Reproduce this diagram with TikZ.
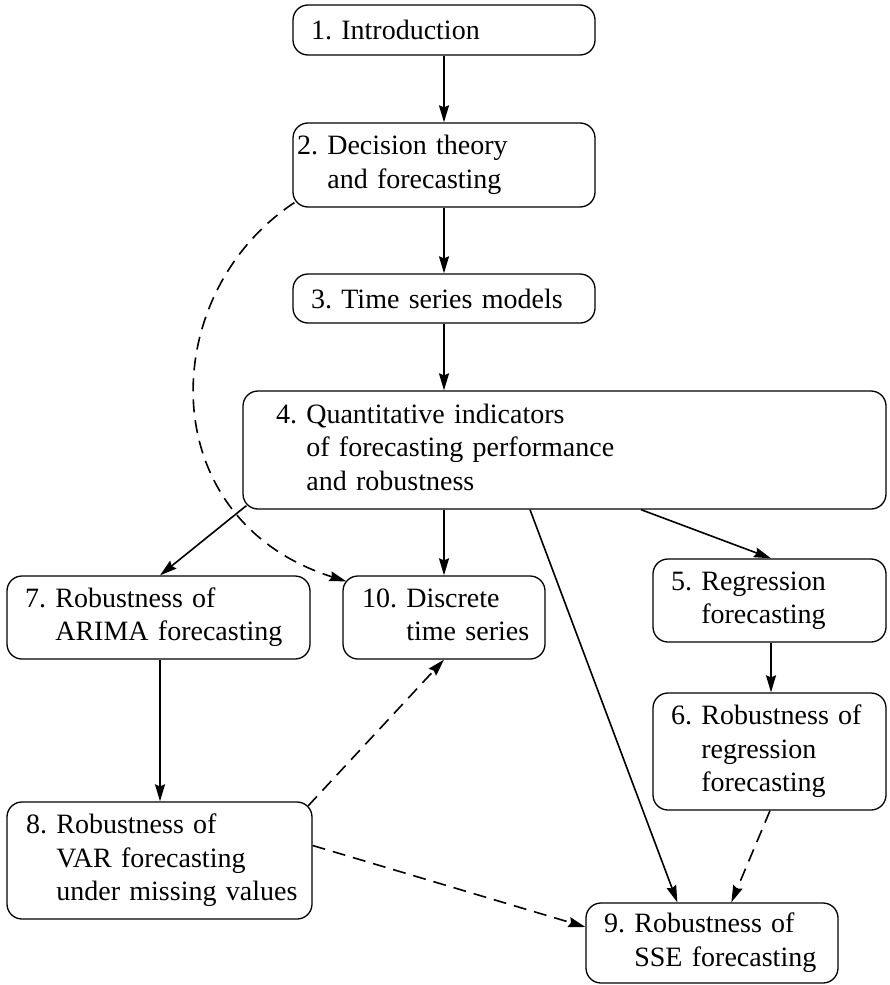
\documentclass[tikz,border=0pt]{standalone}
\usepackage{fontspec}
\setmainfont{Liberation Serif}
\usetikzlibrary{arrows.meta,calc}

% chapter entry: number followed by a hanging-indented title
\newcommand\chap[2]{\begin{tabular}{@{}l@{}l@{}}\mbox{#1\ }&#2\end{tabular}}

\tikzset{
  chapbox/.style={draw, line width=1.3pt, rounded corners=15pt, align=left,
    anchor=center, inner ysep=0pt, font=\fontsize{28}{33.5}\selectfont\frenchspacing},
  link/.style={line width=1.6pt, -{Stealth[length=17pt,width=10pt,inset=2pt]}},
  dlink/.style={link, dash pattern=on 13pt off 8pt},
}

\begin{document}
\frenchspacing
\begin{tikzpicture}[x=1pt,y=-1pt]
\useasboundingbox (0,0) rectangle (889,985);

% chapters
\node[chapbox, minimum width=302pt, minimum height=50pt, inner xsep=18pt, text width=266pt]
  (b1) at (444,30) {1. Introduction};
\node[chapbox, minimum width=302pt, minimum height=84pt, inner xsep=4pt, text width=294pt]
  (b2) at (444,165) {\chap{2.}{Decision theory\\&and forecasting}};
\node[chapbox, minimum width=302pt, minimum height=49pt, inner xsep=18pt, text width=266pt]
  (b3) at (444,298.5) {3. Time series models};
\node[chapbox, minimum width=643pt, minimum height=118pt, inner xsep=33pt, text width=577pt]
  (b4) at (564.5,450) {\chap{4.}{Quantitative indicators\\&of forecasting performance\\&and robustness}};
\node[chapbox, minimum width=303pt, minimum height=83pt, inner xsep=18pt, text width=267pt]
  (b7) at (158.5,617.5) {\chap{7.}{Robustness of\\&ARIMA forecasting}};
\node[chapbox, minimum width=202pt, minimum height=83pt, inner xsep=19pt, text width=164pt]
  (b10) at (444,617.5) {\chap{10.}{Discrete\\&time series}};
\node[chapbox, minimum width=233pt, minimum height=83pt, inner xsep=18pt, text width=197pt]
  (b5) at (769.5,600.5) {\chap{5.}{Regression\\&forecasting}};
\node[chapbox, minimum width=233pt, minimum height=117pt, inner xsep=18pt, text width=197pt]
  (b6) at (769.5,751.5) {\chap{6.}{Robustness of\\&regression\\&forecasting}};
\node[chapbox, minimum width=305pt, minimum height=117pt, inner xsep=19pt, text width=267pt]
  (b8) at (159.5,860.5) {\chap{8.}{Robustness of\\&VAR forecasting\\&under missing values}};
\node[chapbox, minimum width=252pt, minimum height=80pt, inner xsep=18pt, text width=216pt]
  (b9) at (712,943) {\chap{9.}{Robustness of\\&SSE forecasting}};

% attachment point under chapter 7
\coordinate (b7out) at ($(b7.south)+(1.5,0)$);

% solid dependencies
\draw[link] (b1.south) -- (b2.north);
\draw[link] (b2.south) -- (b3.north);
\draw[link] (b3.south) -- (b3.south |- b4.north);
\draw[link] ($(b4.south west)+(4,-4)$) -- ($(b7.north)+(1.5,0)$);
\draw[link] (b10.north |- b4.south) -- (b10.north);
\draw[link] ($(b4.south)+(76.5,0)$) -- ($(b5.north)+(1.5,0)$);
\draw[link] ($(b4.south)+(-34.5,0)$) -- ($(b9.north west)+(92,0)$);
\draw[link] ($(b5.south)+(1.5,0)$) -- ($(b6.north)+(1.5,0)$);
\draw[link] (b7out) -- (b7out |- b8.north);

% dashed dependencies
\draw[dlink] ($(b2.south west)+(2,-5)$) .. controls (155,295) and (152,520) .. ($(b10.north west)+(4,6)$);
\draw[dlink] ($(b8.north east)+(-4.5,4.5)$) -- (b10.south);
\draw[dlink] ($(b8.east)+(0,-15)$) -- ($(b9.west)+(0,-16)$);
\draw[dlink] ($(b6.south)+(0.5,0)$) -- ($(b9.north west)+(146,0)$);
\end{tikzpicture}
\end{document}
